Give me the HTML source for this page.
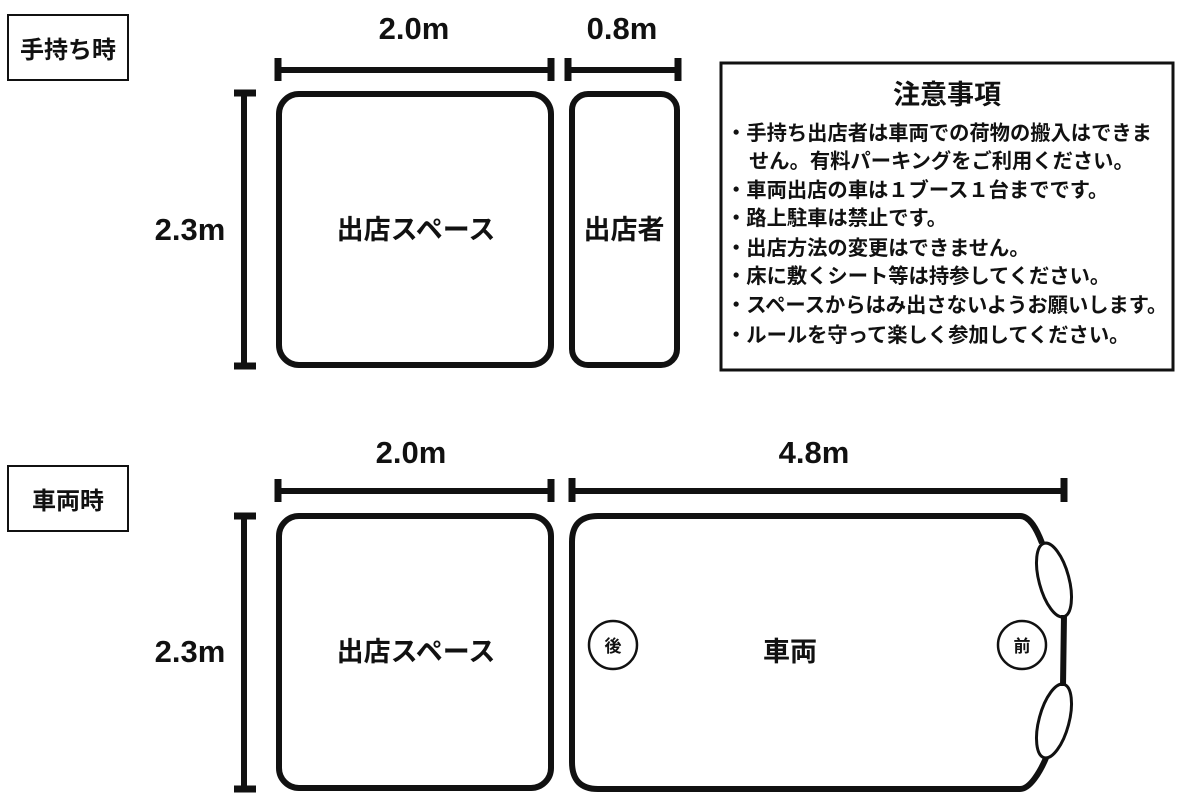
<!DOCTYPE html>
<html><head><meta charset="utf-8"><style>
html,body{margin:0;padding:0;background:#fff;width:1200px;height:811px;overflow:hidden}
svg text{font-family:"Liberation Sans","Noto Sans CJK JP",sans-serif;font-weight:bold;fill:#111}
</style></head><body>
<svg width="1200" height="811" viewBox="0 0 1200 811">
<g fill="none" stroke="#111">
<rect x="8" y="15" width="120" height="65" stroke-width="2"/>
<rect x="8" y="466" width="120" height="65" stroke-width="2"/>
<g stroke-width="6">
<line x1="277" y1="70" x2="551" y2="70"/>
<line x1="567" y1="70" x2="678" y2="70"/>
<line x1="571" y1="491" x2="1064" y2="491"/>
<line x1="277" y1="491" x2="551" y2="491"/>
<line x1="244" y1="93" x2="244" y2="366"/>
<line x1="244" y1="516" x2="244" y2="789"/>
</g>
<g stroke-width="7">
<line x1="278" y1="58" x2="278" y2="81"/>
<line x1="551" y1="58" x2="551" y2="81"/>
<line x1="568" y1="58" x2="568" y2="81"/>
<line x1="678" y1="58" x2="678" y2="81"/>
<line x1="278" y1="479" x2="278" y2="502"/>
<line x1="551" y1="479" x2="551" y2="502"/>
<line x1="572" y1="478" x2="572" y2="502"/>
<line x1="1064" y1="478" x2="1064" y2="502"/>
<line x1="234" y1="93" x2="256" y2="93"/>
<line x1="234" y1="366" x2="256" y2="366"/>
<line x1="234" y1="516" x2="256" y2="516"/>
<line x1="234" y1="789" x2="256" y2="789"/>
</g>
<rect x="279" y="94" width="272" height="271" rx="20" stroke-width="6"/>
<rect x="572" y="94" width="105" height="271" rx="16" stroke-width="6"/>
<rect x="279" y="516" width="272" height="272" rx="20" stroke-width="6"/>
<path d="M1042,543 C1037,530 1030,516 1020,516 L598,516 Q572,516 572,542 L572,762 Q572,789 598,789 L1020,789 C1030,789 1040,772 1046,758 M1064,615 L1063,686" stroke-width="6"/>
<ellipse cx="1054" cy="580" rx="15" ry="38" transform="rotate(-15 1054 580)" stroke-width="3"/>
<ellipse cx="1054" cy="721" rx="15" ry="38" transform="rotate(15 1054 721)" stroke-width="3"/>
<circle cx="613" cy="645" r="24" stroke-width="2.5"/>
<circle cx="1022" cy="645" r="24" stroke-width="2.5"/>
<rect x="721" y="63" width="452" height="307" stroke-width="3"/>
</g>
<text x="68" y="58" font-size="24" text-anchor="middle">手持ち時</text>
<text x="68" y="509" font-size="24" text-anchor="middle">車両時</text>
<text x="414" y="39" font-size="31" text-anchor="middle">2.0m</text>
<text x="622" y="39" font-size="31" text-anchor="middle">0.8m</text>
<text x="411" y="463" font-size="31" text-anchor="middle">2.0m</text>
<text x="814" y="463" font-size="31" text-anchor="middle">4.8m</text>
<text x="190" y="240" font-size="31" text-anchor="middle">2.3m</text>
<text x="190" y="662" font-size="31" text-anchor="middle">2.3m</text>
<text x="416" y="239" font-size="27" text-anchor="middle">出店スペース</text>
<text x="624" y="239" font-size="27" text-anchor="middle">出店者</text>
<text x="416" y="661" font-size="27" text-anchor="middle">出店スペース</text>
<text x="790" y="661" font-size="27" text-anchor="middle">車両</text>
<text x="613" y="652" font-size="17" text-anchor="middle">後</text>
<text x="1022" y="652" font-size="17" text-anchor="middle">前</text>
<text x="947" y="104" font-size="27" text-anchor="middle">注意事項</text>
<g font-size="20.3">
<text x="726" y="140">・手持ち出店者は車両での荷物の搬入はできま</text>
<text x="749" y="168">せん。有料パーキングをご利用ください。</text>
<text x="726" y="197">・車両出店の車は１ブース１台までです。</text>
<text x="726" y="225">・路上駐車は禁止です。</text>
<text x="726" y="255">・出店方法の変更はできません。</text>
<text x="726" y="283">・床に敷くシート等は持参してください。</text>
<text x="726" y="312">・スペースからはみ出さないようお願いします。</text>
<text x="726" y="342">・ルールを守って楽しく参加してください。</text>
</g>
</svg>
</body></html>
